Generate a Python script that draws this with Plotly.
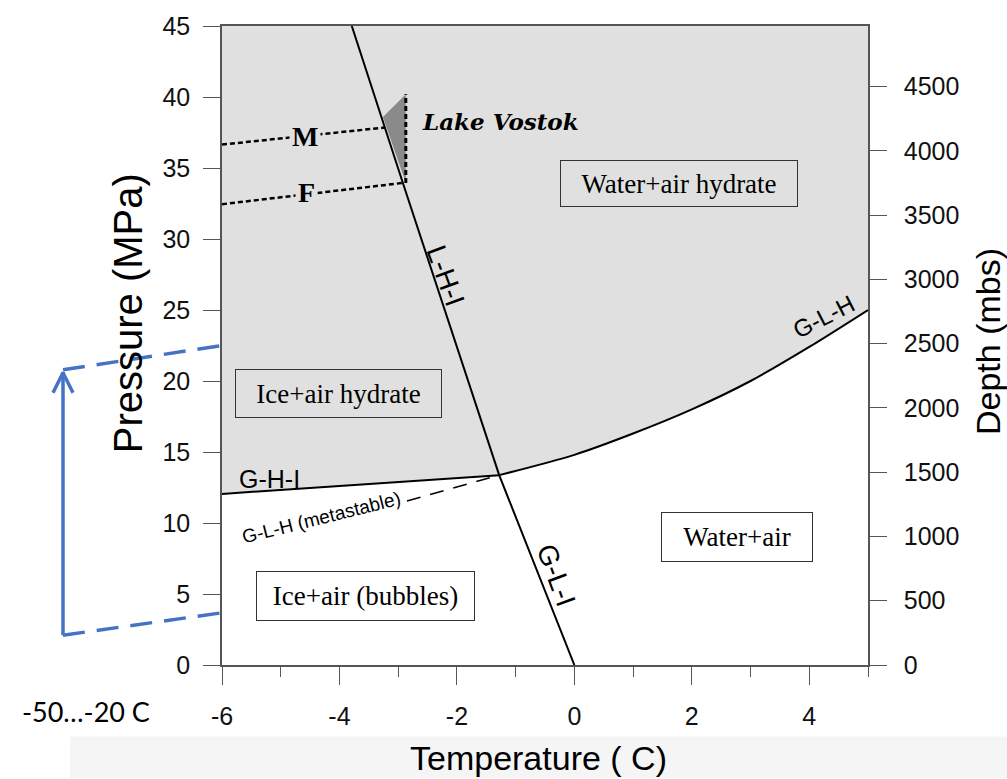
import plotly.graph_objects as go

# ---------------- data ----------------
T_RANGE = [-6, 5]
P_RANGE = [0, 45]
T_TICKS = [-6, -4, -2, 0, 2, 4]
T_TICKTEXT = ["-6", "-4", "-2", "0", "2", "4"]
P_TICKS = [0, 5, 10, 15, 20, 25, 30, 35, 40, 45]
DEPTH_TICKS = [0, 500, 1000, 1500, 2000, 2500, 3000, 3500, 4000, 4500]
DEPTH_REF_M = 4500        # depth tick ...
DEPTH_REF_MPA = 40.73     # ... sits at this pressure

# L-H-I / G-L-I melting line (T in C, P in MPa)
lhi_T = [0.0, -1.28, -2.92, -3.79]
lhi_P = [0.0, 13.37, 33.94, 45.0]
# G-H-I
ghi_T = [-6.0, -1.28]
ghi_P = [12.05, 13.37]
# G-L-H
glh_T = [-1.28, 0.0, 1.0, 2.0, 3.0, 4.0, 5.0]
glh_P = [13.37, 14.8, 16.3, 18.0, 20.0, 22.4, 25.0]
# G-L-H metastable extension
meta_T = [-2.85, -1.28]
meta_P = [11.55, 13.37]
# M and F profiles, Lake Vostok
m_T = [-6.0, -3.23]
m_P = [36.65, 37.85]
f_T = [-6.0, -2.92]
f_P = [32.45, 33.95]
vost_T = [-2.87, -2.87]
vost_P = [33.95, 40.2]
tri_T = [-3.26, -2.87, -2.87]
tri_P = [38.6, 40.2, 33.95]

# region labels: text, T, P, box width px, box height px
boxes = [
    ("Water+air hydrate", 1.79, 33.9, 236, 45),
    ("Ice+air hydrate", -4.02, 19.14, 205, 47),
    ("Water+air", 2.77, 9.03, 150, 48),
    ("Ice+air (bubbles)", -3.55, 4.83, 217, 48),
]

# ---------------- figure ----------------
W, H = 1007, 779
ML, MR, MT, MB = 222, 139, 22, 114
PW, PH = W - ML - MR, H - MT - MB


def paper(xp, yp):
    """pixel -> paper coordinates"""
    return (xp - ML) / PW, (H - MB - yp) / PH


GRAY = "#e0e0e0"
fig = go.Figure()

# hydrate stability region
fig.add_trace(go.Scatter(
    x=ghi_T + glh_T[1:] + [T_RANGE[1], T_RANGE[0]],
    y=ghi_P + glh_P[1:] + [P_RANGE[1], P_RANGE[1]],
    fill="toself", fillcolor=GRAY, line=dict(width=0), mode="lines",
    hoverinfo="skip"))

# Lake Vostok triangle
fig.add_trace(go.Scatter(x=tri_T, y=tri_P, fill="toself", fillcolor="#8a8a8a",
                         line=dict(width=0), mode="lines", hoverinfo="skip"))

black = dict(color="black", width=2)
fig.add_trace(go.Scatter(x=lhi_T, y=lhi_P, mode="lines", line=black))
fig.add_trace(go.Scatter(x=ghi_T, y=ghi_P, mode="lines", line=black))
fig.add_trace(go.Scatter(x=glh_T, y=glh_P, mode="lines",
                         line=dict(color="black", width=2, shape="spline", smoothing=0.8)))
fig.add_trace(go.Scatter(x=meta_T, y=meta_P, mode="lines",
                         line=dict(color="black", width=1.5, dash="14px,10px")))
dots = dict(color="black", width=2.5, dash="5px,3px")
fig.add_trace(go.Scatter(x=m_T, y=m_P, mode="lines", line=dots))
fig.add_trace(go.Scatter(x=f_T, y=f_P, mode="lines", line=dots))
fig.add_trace(go.Scatter(x=vost_T, y=vost_P, mode="lines",
                         line=dict(color="black", width=3, dash="5px,3px")))
# trace for the depth axis
fig.add_trace(go.Scatter(x=[None], y=[None], yaxis="y2", hoverinfo="skip"))

ann = []
for txt, t, p, bw, bh in boxes:
    ann.append(dict(x=t, y=p, xref="x", yref="y", text=txt, showarrow=False,
                    font=dict(family="Liberation Serif", size=27, color="black"),
                    bordercolor="#333", borderwidth=1, borderpad=0,
                    width=bw, height=bh, bgcolor=GRAY if p > 15 else "white"))

sans = "Liberation Sans"
ann += [
    dict(x=-1.26, y=38.3, text="<b><i>Lake Vostok</i></b>", showarrow=False,
         font=dict(family="DejaVu Serif", size=23, color="black")),
    dict(x=-4.59, y=37.25, text="<b>M</b>", showarrow=False, bgcolor=GRAY, borderpad=2,
         font=dict(family="Liberation Serif", size=28, color="black")),
    dict(x=-4.56, y=33.3, text="<b>F</b>", showarrow=False, bgcolor=GRAY, borderpad=2,
         font=dict(family="Liberation Serif", size=28, color="black")),
    dict(x=-5.19, y=13.1, text="G-H-I", showarrow=False,
         font=dict(family=sans, size=25, color="black")),
    dict(x=-2.2, y=27.4, text="L-H-I", showarrow=False, textangle=70,
         font=dict(family=sans, size=28, color="black")),
    dict(x=-0.31, y=6.3, text="G-L-I", showarrow=False, textangle=70,
         font=dict(family=sans, size=28, color="black")),
    dict(x=4.25, y=24.56, text="G-L-H", showarrow=False, textangle=-27,
         font=dict(family=sans, size=24, color="black")),
    dict(x=-4.30, y=10.4, text="G-L-H (metastable)", showarrow=False, textangle=-14,
         font=dict(family=sans, size=19, color="black")),
]

# axis titles and outside note
for txt, (xp, yp), ang, size, fam in [
    ("Temperature ( C)", (538, 759), 0, 34, sans),
    ("Pressure (MPa)", (128, 311), -90, 40, sans),
    ("Depth (mbs)", (988, 340), -90, 34, sans),
    ("-50…-20 C", (86, 712), 0, 27, "Lato"),
]:
    px_, py_ = paper(xp, yp)
    ann.append(dict(x=px_, y=py_, xref="paper", yref="paper", text=txt, showarrow=False,
                    textangle=ang, font=dict(family=fam, size=size, color="black"),
                    xanchor="center", yanchor="middle"))

# blue decorations (outside the axes)
BLUE = "#4472C4"
shapes = []
bx0, by0 = paper(70, 737)
bx1, by1 = paper(1007, 779)
shapes.append(dict(type="rect", xref="paper", yref="paper", x0=bx0, y0=by0, x1=bx1, y1=by1,
                   fillcolor="#f5f5f5", line=dict(width=0), layer="below"))
for (a, b, dash) in [((63, 368), (225, 343), "22px,12px"),
                     ((63, 635), (225, 612), "22px,12px"),
                     ((63, 635), (63, 370), "solid"),
                     ((63, 371), (53, 391), "solid"),
                     ((63, 371), (73, 391), "solid")]:
    x0, y0 = paper(*a)
    x1, y1 = paper(*b)
    shapes.append(dict(type="line", xref="paper", yref="paper", x0=x0, y0=y0, x1=x1, y1=y1,
                       line=dict(color=BLUE, width=3.5, dash=dash)))

axcol = "#555555"
fig.update_layout(
    width=W, height=H, margin=dict(l=ML, r=MR, t=MT, b=MB),
    plot_bgcolor="white", paper_bgcolor="white", showlegend=False,
    font=dict(family=sans, color="#1a1a1a"),
    annotations=ann, shapes=shapes,
    xaxis=dict(range=T_RANGE, tickvals=T_TICKS, ticktext=T_TICKTEXT, ticks="outside",
               ticklen=18, tickwidth=1.3,
               tickcolor=axcol, showline=True, linecolor=axcol, linewidth=1.5, mirror=True,
               showgrid=False, zeroline=False, tickfont=dict(size=25, color="#111"),
               ticklabelstandoff=10,
               minor=dict(dtick=1, tick0=0, ticks="outside", ticklen=10, tickcolor=axcol,
                          tickwidth=1.3, showgrid=False)),
    yaxis=dict(range=P_RANGE, tickvals=P_TICKS, ticks="outside", ticklen=17, tickwidth=1.3,
               tickcolor=axcol, showline=True, linecolor=axcol, linewidth=1.5,
               showgrid=False, zeroline=False, tickfont=dict(size=25, color="#111"),
               ticklabelstandoff=8),
    yaxis2=dict(overlaying="y", side="right",
                range=[0, P_RANGE[1] * DEPTH_REF_M / DEPTH_REF_MPA], tickvals=DEPTH_TICKS,
                ticks="outside", ticklen=17, tickwidth=1.3, tickcolor=axcol, showline=True,
                linecolor=axcol, linewidth=1.5, showgrid=False, zeroline=False,
                tickfont=dict(size=25, color="#111"), ticklabelstandoff=12),
)

fig.write_html("out.html")
